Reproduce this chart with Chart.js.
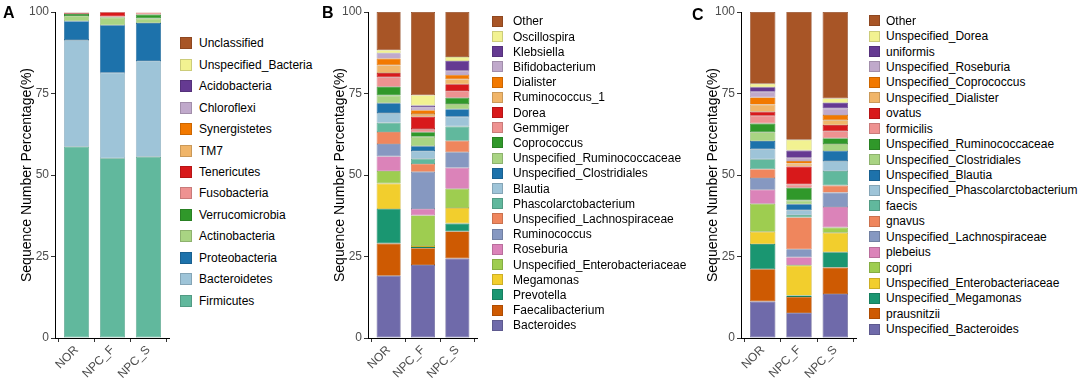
<!DOCTYPE html>
<html><head><meta charset="utf-8">
<script src="https://cdn.jsdelivr.net/npm/chart.js@4.4.1/dist/chart.umd.min.js"></script>
<style>
body{margin:0;background:#fff;width:1084px;height:382px;overflow:hidden;position:relative;font-family:"Liberation Sans",Arial,Helvetica,sans-serif;}
canvas{position:absolute;top:0;}
.lbl{position:absolute;font-weight:bold;font-size:16px;line-height:16px;color:#000;}
.item{position:absolute;display:flex;align-items:center;font-size:12px;line-height:12px;color:#000;white-space:nowrap;}
.sw{box-sizing:border-box;border:1px solid;flex:none;}
</style>
</head><body>
<canvas id="cA" width="170" height="382" style="left:0px"></canvas>
<canvas id="cB" width="165" height="382" style="left:313px"></canvas>
<canvas id="cC" width="171" height="382" style="left:686px"></canvas>
<div class="lbl" style="left:3px;top:5px">A</div>
<div class="lbl" style="left:322px;top:5px">B</div>
<div class="lbl" style="left:692px;top:7px">C</div>
<div id="legA"></div><div id="legB"></div><div id="legC"></div>
<script>
// ---------- data ----------
const groups = ['NOR', 'NPC_F', 'NPC_S'];
const yTickStep = 25;
const yTitle = 'Sequence Number Percentage(%)';

// Panel A (phylum level), bottom -> top of each bar
const taxaA = ['Firmicutes','Bacteroidetes','Proteobacteria','Actinobacteria','Verrucomicrobia','Fusobacteria','Tenericutes','TM7','Synergistetes','Chloroflexi','Acidobacteria','Unspecified_Bacteria','Unclassified'];
const valsA_NOR  = [58.7, 32.7, 5.8, 1.6, 0.6, 0.3, 0.1, 0.05, 0.02, 0.01, 0.01, 0.08, 0.03];
const valsA_NPCF = [55.1, 26.3, 14.5, 2.4, 0.2, 0.1, 1.3, 0.02, 0.01, 0.01, 0.01, 0.03, 0.02];
const valsA_NPCS = [55.6, 29.4, 11.6, 1.4, 1.2, 0.6, 0.05, 0.05, 0.02, 0.01, 0.01, 0.04, 0.02];

// Panel B (genus level), bottom -> top
const taxaB = ['Bacteroides','Faecalibacterium','Prevotella','Megamonas','Unspecified_Enterobacteriaceae','Roseburia','Ruminococcus','Unspecified_Lachnospiraceae','Phascolarctobacterium','Blautia','Unspecified_Clostridiales','Unspecified_Ruminococcaceae','Coprococcus','Gemmiger','Dorea','Ruminococcus_1','Dialister','Bifidobacterium','Klebsiella','Oscillospira','Other'];
const valsB_NOR  = [19.1, 9.9, 10.6, 7.8, 3.8, 4.5, 3.8, 3.7, 2.8, 3.0, 3.0, 2.4, 2.7, 2.9, 1.3, 2.4, 2.0, 1.6, 0.1, 0.9, 11.7];
const valsB_NPCF = [22.4, 5.1, 0.4, 0.3, 9.4, 2.0, 11.4, 2.4, 1.6, 2.4, 1.4, 2.9, 1.4, 1.0, 3.8, 0.8, 1.2, 0.8, 0.6, 3.2, 25.5];
const valsB_NPCS = [24.4, 8.3, 2.4, 4.8, 5.9, 6.4, 4.8, 3.5, 4.4, 3.0, 2.3, 1.6, 1.9, 2.1, 2.0, 1.6, 1.3, 1.3, 3.0, 1.2, 13.8];

// Panel C (species level), bottom -> top
const taxaC = ['Unspecified_Bacteroides','prausnitzii','Unspecified_Megamonas','Unspecified_Enterobacteriaceae','copri','plebeius','Unspecified_Lachnospiraceae','gnavus','faecis','Unspecified_Phascolarctobacterium','Unspecified_Blautia','Unspecified_Clostridiales','Unspecified_Ruminococcaceae','formicilis','ovatus','Unspecified_Dialister','Unspecified_Coprococcus','Unspecified_Roseburia','uniformis','Unspecified_Dorea','Other'];
const valsC_NOR  = [11.2, 9.9, 7.7, 3.8, 8.6, 4.3, 3.6, 2.7, 3.0, 3.1, 2.5, 2.7, 2.7, 2.4, 1.2, 2.2, 2.2, 1.7, 1.4, 1.1, 22.0];
const valsC_NPCF = [7.7, 4.9, 0.4, 9.2, 0.2, 2.4, 2.4, 9.8, 0.7, 1.5, 1.8, 1.2, 3.9, 1.0, 5.5, 0.9, 0.8, 1.0, 2.2, 3.3, 39.2];
const valsC_NPCS = [13.5, 8.1, 4.7, 6.0, 1.6, 6.3, 4.4, 2.2, 4.4, 3.1, 3.1, 2.1, 1.8, 2.1, 1.9, 1.5, 1.6, 2.0, 1.8, 1.3, 26.5];

// ---------- styles ----------
const colorsA = ['#66C2A5','#A6CEE3','#1F78B4','#B2DF8A','#33A02C','#FB9A99','#E31A1C','#FDBF6F','#FF7F00','#CAB2D6','#6A3D9A','#FFFF99','#B15928'];
const colorsBC = ['#7570B3','#D95F02','#1B9E77','#FFD92F','#A6D854','#E78AC3','#8DA0CB','#FC8D62','#66C2A5','#A6CEE3','#1F78B4','#B2DF8A','#33A02C','#FB9A99','#E31A1C','#FDBF6F','#FF7F00','#CAB2D6','#6A3D9A','#FFFF99','#B15928'];
const FILL_SHADE = 0.95;
const BORDER_SHADE = 0.8;
const FONT = '"Liberation Sans", Arial, Helvetica, sans-serif';

function shade(hex, k) {
  const n = parseInt(hex.slice(1), 16);
  const r = Math.round(((n >> 16) & 255) * k), g = Math.round(((n >> 8) & 255) * k), b = Math.round((n & 255) * k);
  return `rgb(${r},${g},${b})`;
}

Chart.defaults.font.family = FONT;

function makePanel(id, taxa, valsByGroup, colors) {
  const datasets = taxa.map((t, ti) => ({
    label: t,
    data: groups.map((g, gi) => ({ x: gi, y: valsByGroup[gi][ti] })),
    backgroundColor: shade(colors[ti], FILL_SHADE),
    borderColor: shade(colors[ti], BORDER_SHADE),
    borderWidth: 0.7,
    borderSkipped: false,
    stack: 's',
    barPercentage: 0.7,
    categoryPercentage: 1
  }));
  const axisGrid = { display: true, drawOnChartArea: false, drawTicks: true, tickLength: 4, color: '#333333', lineWidth: 1 };
  const axisBorder = { display: true, color: '#000000', width: 1 };
  new Chart(document.getElementById(id), {
    type: 'bar',
    data: { datasets },
    options: {
      responsive: false,
      animation: false,
      layout: { padding: { top: 12, left: 0, right: 0, bottom: 0 }, autoPadding: false },
      plugins: { legend: { display: false }, tooltip: { enabled: false } },
      scales: {
        x: {
          type: 'linear', min: -0.6, max: 2.6, offset: false,
          ticks: { stepSize: 1, includeBounds: false, autoSkip: false, minRotation: 45, maxRotation: 45,
                   padding: 1, color: '#4D4D4D', font: { size: 12 },
                   callback: (v) => (groups[v] !== undefined ? groups[v] : '') },
          grid: axisGrid, border: axisBorder,
          afterFit: (s) => { s.height = 44; }
        },
        y: {
          stacked: true, min: 0, max: 100,
          ticks: { stepSize: yTickStep, color: '#4D4D4D', font: { size: 12 }, padding: 2 },
          grid: axisGrid, border: axisBorder,
          title: { display: true, text: yTitle, color: '#000000', font: { size: 14 }, padding: { top: 19, bottom: 0 } },
          afterFit: (s) => { s.width = 55; }
        }
      }
    }
  });
}

function makeLegend(id, taxa, colors, swX, txtX, y0, step, sw) {
  const host = document.getElementById(id);
  const order = taxa.map((t, i) => i).reverse();
  order.forEach((ti, k) => {
    const cy = y0 + k * step;
    const item = document.createElement('div');
    item.className = 'item';
    item.style.left = swX + 'px';
    item.style.top = (cy - 7) + 'px';
    item.style.height = '14px';
    const s = document.createElement('div');
    s.className = 'sw';
    s.style.width = sw + 'px';
    s.style.height = sw + 'px';
    s.style.background = shade(colors[ti], FILL_SHADE);
    s.style.borderColor = shade(colors[ti], BORDER_SHADE);
    const span = document.createElement('span');
    span.textContent = taxa[ti];
    span.style.marginLeft = (txtX - swX - sw) + 'px';
    item.appendChild(s);
    item.appendChild(span);
    host.appendChild(item);
  });
}

makePanel('cA', taxaA, [valsA_NOR, valsA_NPCF, valsA_NPCS], colorsA);
makePanel('cB', taxaB, [valsB_NOR, valsB_NPCF, valsB_NPCS], colorsBC);
makePanel('cC', taxaC, [valsC_NOR, valsC_NPCF, valsC_NPCS], colorsBC);

makeLegend('legA', taxaA, colorsA, 180, 199, 43.3, 21.45, 12);
makeLegend('legB', taxaB, colorsBC, 492, 513, 21.3, 15.2, 11);
makeLegend('legC', taxaC, colorsBC, 869, 886, 20.7, 15.43, 11);
</script>
</body></html>
